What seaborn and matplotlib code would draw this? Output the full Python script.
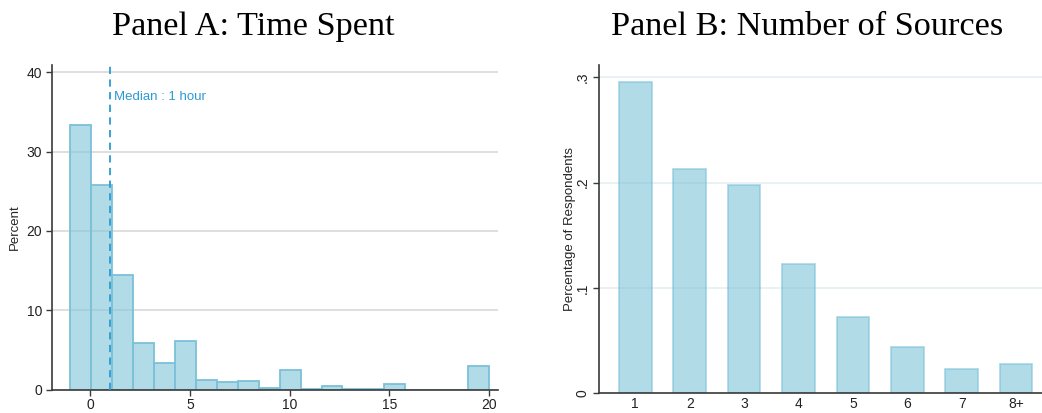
import numpy as np
import pandas as pd
import matplotlib
matplotlib.use("Agg")
import matplotlib.pyplot as plt
import seaborn as sns

# Panel A: hours spent, histogram of 20 bins from -1 to 20 (percent of respondents)
bin_lo, bin_hi, n_bins = -1.0, 20.0, 20
hours_pct = [33.4, 25.8, 14.5, 5.85, 3.4, 6.1, 1.18, 0.92, 1.13, 0.17,
             2.5, 0.1, 0.42, 0.05, 0.03, 0.76, 0.0, 0.0, 0.0, 2.98]
median_hours = 1

# Panel B: number of sources consulted (share of respondents)
source_cats = ["1", "2", "3", "4", "5", "6", "7", "8+"]
source_share = [0.295, 0.213, 0.198, 0.123, 0.0724, 0.044, 0.0228, 0.028]

sns.set_style("white")
plt.rcParams["font.family"] = ["Liberation Sans", "DejaVu Sans"]

W, H = 1042, 413
fig = plt.figure(figsize=(W / 100, H / 100), dpi=100)

bar_fill = "#80c3d9"
bar_edge = "#7cc0da"
axis_col = "#3a3a3a"

# ---------------- Panel A ----------------
axA = fig.add_axes([52 / W, 1 - 389.7 / H, (498 - 52) / W, (389.7 - 65) / H])
bw = (bin_hi - bin_lo) / n_bins
centers = bin_lo + bw * (np.arange(n_bins) + 0.5)
dfA = pd.DataFrame({"hours": centers, "pct": hours_pct})
sns.histplot(data=dfA, x="hours", weights="pct", binwidth=bw, binrange=(bin_lo, bin_hi),
             stat="count", color=bar_fill, alpha=0.6, edgecolor=bar_edge, linewidth=1.3,
             ax=axA, zorder=2)
axA.set_xlim(-1.92, 20.45)
axA.set_ylim(0, 40.9)
axA.set_xticks([0, 5, 10, 15, 20])
axA.set_yticks([0, 10, 20, 30, 40])
axA.yaxis.grid(True, color="#dcdcdc", linewidth=1.3, zorder=1)
axA.set_axisbelow(True)
axA.axvline(median_hours, color="#2b9bcf", linestyle=(0, (4, 3)), linewidth=1.3, zorder=3)
axA.text(median_hours + 0.2, 36.9, f"Median : {median_hours} hour", color="#2b9bcf",
         fontsize=9.5, va="center", ha="left")
axA.set_xlabel("")
axA.set_ylabel("Percent", fontsize=9.5)
axA.yaxis.set_label_coords((21 - 52) / (498 - 52), 0.5)

# ---------------- Panel B ----------------
axB = fig.add_axes([599 / W, 1 - 393.3 / H, (1042 - 599) / W, (393.3 - 65) / H])
dfB = pd.DataFrame({"sources": source_cats, "share": source_share})
sns.barplot(data=dfB, x="sources", y="share", order=source_cats, width=0.6,
            color=bar_fill, alpha=0.6, edgecolor=bar_edge, linewidth=1.3,
            saturation=1, ax=axB, zorder=2)
axB.set_xlim(-0.667, 7.476)
axB.set_ylim(0, 0.3115)
axB.set_yticks([0, 0.1, 0.2, 0.3])
axB.set_yticklabels(["0", ".1", ".2", ".3"], rotation=90, va="center")
axB.yaxis.grid(True, color="#e6f0f2", linewidth=1.3, zorder=1)
axB.set_axisbelow(True)
axB.set_xlabel("")
axB.set_ylabel("Percentage of Respondents", fontsize=9.5)
axB.yaxis.set_label_coords((576 - 599) / (1042 - 599), 0.5)

for ax in (axA, axB):
    for side in ("top", "right"):
        ax.spines[side].set_visible(False)
    for side in ("left", "bottom"):
        ax.spines[side].set_color(axis_col)
        ax.spines[side].set_linewidth(1.2)
    ax.tick_params(axis="y", direction="out", length=4, width=1, color=axis_col,
                   labelsize=10, labelcolor="#222222", left=True, pad=3)
    ax.tick_params(axis="x", direction="out", length=4, width=1, color=axis_col,
                   labelsize=10, labelcolor="#222222", bottom=True, pad=2)
axB.tick_params(axis="x", length=0, pad=3)

# Panel titles
title_font = ["Liberation Serif", "DejaVu Serif"]
fig.text(253 / W, 1 - 35 / H, "Panel A: Time Spent", ha="center", va="baseline",
         fontsize=24.7, color="black", family=title_font)
fig.text(807.5 / W, 1 - 35 / H, "Panel B: Number of Sources", ha="center", va="baseline",
         fontsize=24.7, color="black", family=title_font)

fig.savefig("out.png", dpi=100, facecolor="white")
